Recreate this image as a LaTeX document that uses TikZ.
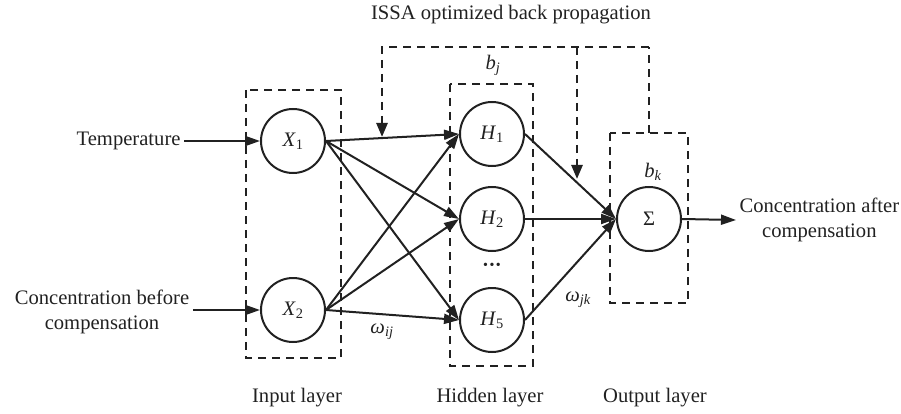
\documentclass[tikz,border=0pt]{standalone}
\usepackage{fontspec}
\setmainfont{Liberation Serif}
\usepackage{tikz}
\usetikzlibrary{arrows.meta}
\definecolor{inkgray}{rgb}{0.13, 0.13, 0.13}

\begin{document}
\begin{tikzpicture}[x=1pt, y=-1pt,
        font=\fontsize{20.6}{24.5}\selectfont,
        every node/.style={text=inkgray},
        neuron/.style={circle, draw=inkgray, line width=2pt, minimum size=64pt, inner sep=0pt},
        layerbox/.style={draw=inkgray, line width=2.6pt, dash pattern=on 8pt off 6pt},
        link/.style={draw=inkgray, line width=2pt, -{Triangle[length=15pt,width=10pt]}},
        backlink/.style={layerbox, -{Triangle[length=14pt,width=11pt]}},
        lbl/.style={font=\fontsize{20.6}{22}\selectfont\itshape},
    ]
        \useasboundingbox (0,0) rectangle (901,414);

        \draw[layerbox] (246,90) rectangle (341,358);
        \draw[layerbox] (450,84) rectangle (533,366);
        \draw[layerbox] (610,133) rectangle (688,303);

        \node (X1) [neuron] at (293,141) {\textit{X}\textsubscript{1}};
        \node (X2) [neuron] at (293,310) {\textit{X}\textsubscript{2}};
        \node (H1) [neuron] at (492,134) {\textit{H}\textsubscript{1}};
        \node (H2) [neuron] at (492,219) {\textit{H}\textsubscript{2}};
        \node (H5) [neuron] at (492,320) {\textit{H}\textsubscript{5}};
        \node (sum) [neuron] at (649,219) {Σ};
        \node (dots) at (492,266) {\fontsize{14}{14}\selectfont •\hspace{1.5pt}•\hspace{1.5pt}•};

        \node (temp) [anchor=east] at (184,141) {Temperature};
        \node (cbefore) [align=center] at (102,312) {Concentration before\\compensation};
        \node (cafter) [anchor=west, align=center] at (736,220) {Concentration after\\compensation};

        \node (title) at (511,15) {ISSA optimized back propagation};
        \node (inlayer) at (297,398) {Input layer};
        \node (hidlayer) at (490,398) {Hidden layer};
        \node (outlayer) at (655,398) {Output layer};

        \node (bj) [lbl] at (493,65) {b\textsubscript{j}};
        \node (bk) [lbl] at (653,172) {b\textsubscript{k}};
        \node (wij) [lbl] at (382,332) {ω\textsubscript{ij}};
        \node (wjk) [lbl] at (578,300) {ω\textsubscript{jk}};

        \draw[link] (temp.east) -- (X1.west);
        \draw[link] (cbefore.east |- X2) -- (X2.west);
        \draw[link] (sum.east) -- (cafter.west);
        \foreach \i in {X1,X2}
            \foreach \j in {H1,H2,H5}
                \draw[link] (\i.east) -- (\j.west);
        \foreach \j in {H1,H2,H5}
            \draw[link] (\j.east) -- (sum.west);

        \coordinate (fbtop) at (649,47);
        \coordinate (fbleft) at (382,137);
        \coordinate (fbmid) at (577,179);
        \draw[layerbox] (sum |- 0,133) -- (fbtop);
        \draw[backlink] (fbtop) -| (fbleft);
        \draw[backlink] (fbmid |- fbtop) -- (fbmid);
    \end{tikzpicture}
\end{document}
